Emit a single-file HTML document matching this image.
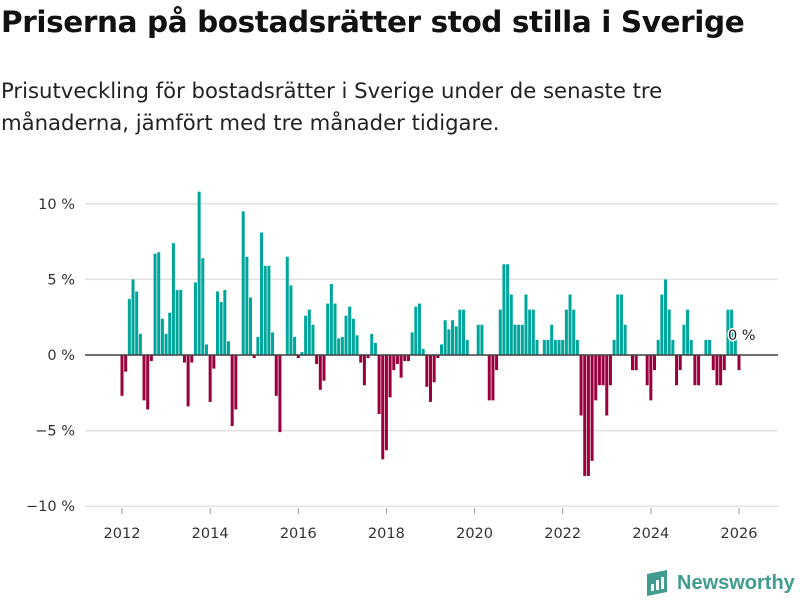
<!DOCTYPE html>
<html><head><meta charset="utf-8"><style>
body{margin:0;width:800px;height:600px;background:#fff;font-family:"Liberation Sans",sans-serif;overflow:hidden;position:relative}
h1{position:absolute;left:1px;top:5px;margin:0;font-family:"DejaVu Sans",sans-serif;font-size:29.5px;font-weight:bold;color:#111;letter-spacing:-0.4px;white-space:nowrap}
p{position:absolute;left:1px;top:75px;margin:0;font-family:"DejaVu Sans",sans-serif;font-size:21.2px;line-height:32px;color:#222;width:700px}
svg{position:absolute;left:0;top:0}
</style></head><body>
<h1>Priserna på bostadsrätter stod stilla i Sverige</h1>
<p>Prisutveckling för bostadsrätter i Sverige under de senaste tre månaderna, jämfört med tre månader tidigare.</p>
<svg id="chart" width="800" height="600"></svg>
<div style="position:absolute;left:645px;top:570px;display:flex;align-items:center;">
<svg width="24" height="26" style="position:static"><path d="M2 4 L22 0 L22 22 L2 26 Z" fill="#3f9c8f"/><rect x="6" y="14" width="3" height="7" fill="#fff"/><rect x="11" y="10" width="3" height="10" fill="#fff"/><rect x="16" y="7" width="3" height="12" fill="#fff"/></svg>
<span style="font-size:20px;font-weight:bold;color:#3f9c8f;margin-left:8px">Newsworthy</span></div>
<script>
const values = [-2.7,-1.1,3.7,5.0,4.2,1.4,-3.0,-3.6,-0.4,6.7,6.8,2.4,
1.4,2.8,7.4,4.3,4.3,-0.5,-3.4,-0.5,4.8,10.8,6.4,0.7,
-3.1,-0.9,4.2,3.5,4.3,0.9,-4.7,-3.6,0,9.5,6.5,3.8,
-0.2,1.2,8.1,5.9,5.9,1.5,-2.7,-5.1,0,6.5,4.6,1.2,
-0.2,0.2,2.6,3.0,2.0,-0.6,-2.3,-1.7,3.4,4.7,3.4,1.1,
1.2,2.6,3.2,2.4,1.3,-0.5,-2.0,-0.2,1.4,0.8,-3.9,-6.9,
-6.3,-2.8,-1.0,-0.6,-1.5,-0.4,-0.4,1.5,3.2,3.4,0.4,-2.1,
-3.1,-1.8,-0.2,0.7,2.3,1.7,2.3,1.9,3.0,3.0,1.0,0,
0,2.0,2.0,0,-3.0,-3.0,-1.0,3.0,6.0,6.0,4.0,2.0,
2.0,2.0,4.0,3.0,3.0,1.0,0,1.0,1.0,2.0,1.0,1.0,
1.0,3.0,4.0,3.0,1.0,-4.0,-8.0,-8.0,-7.0,-3.0,-2.0,-2.0,
-4.0,-2.0,1.0,4.0,4.0,2.0,0,-1.0,-1.0,0,0,-2.0,
-3.0,-1.0,1.0,4.0,5.0,3.0,1.0,-2.0,-1.0,2.0,3.0,1.0,
-2.0,-2.0,0,1.0,1.0,-1.0,-2.0,-2.0,-1.0,3.0,3.0,1.0,-1.0];
const startYear = 2012;
const yTicks = [10,5,0,-5,-10];
const yTickLabels = ["10 %","5 %","0 %","−5 %","−10 %"];
const xTickYears = [2012,2014,2016,2018,2020,2022,2024,2026];
const lastLabel = "0 %";
const NS="http://www.w3.org/2000/svg", svg=document.getElementById('chart');
const xScale = t => 122 + (t-startYear)*44.07;
const yScale = v => 355 - v*15.12;
const FONT='DejaVu Sans, sans-serif';
function mk(tag,attrs){const e=document.createElementNS(NS,tag);for(const k in attrs)e.setAttribute(k,attrs[k]);svg.appendChild(e);return e;}
yTicks.forEach((v,i)=>{
  const g=mk('line',{x1:85,x2:778,y1:yScale(v),y2:yScale(v),stroke:'#e0e0e0','stroke-width':1.5});
  
  
  const t=mk('text',{x:75,y:yScale(v)+5,'text-anchor':'end','font-size':14.5,fill:'#333','font-family':FONT});
  t.textContent=yTickLabels[i];
  
  
});
values.forEach((v,i)=>{
  const x=xScale(startYear+i/12);
  const y0=yScale(0), y1=yScale(v);
  const r=mk('rect',{x:x-1.5,y:Math.min(y0,y1),width:3,height:Math.abs(y1-y0),fill:v>=0?'#00a59b':'#99003d'});
  
  
});
const b=mk('line',{x1:85,x2:778,y1:yScale(0),y2:yScale(0),stroke:'#444','stroke-width':1.5});


xTickYears.forEach(yr=>{
  const tk=mk('line',{x1:xScale(yr),x2:xScale(yr),y1:508,y2:514,stroke:'#999'});
  
  
  const t=mk('text',{x:xScale(yr),y:538,'text-anchor':'middle','font-size':14.5,fill:'#333','font-family':FONT});
  t.textContent=yr;
  
  
});
const lx=xScale(startYear+(values.length-1)/12);
const ll=mk('text',{x:lx-11,y:340,'font-size':14.5,fill:'#222','font-family':FONT,stroke:'#fff','stroke-width':3,'paint-order':'stroke'});
ll.textContent=lastLabel;


</script>
</body></html>
